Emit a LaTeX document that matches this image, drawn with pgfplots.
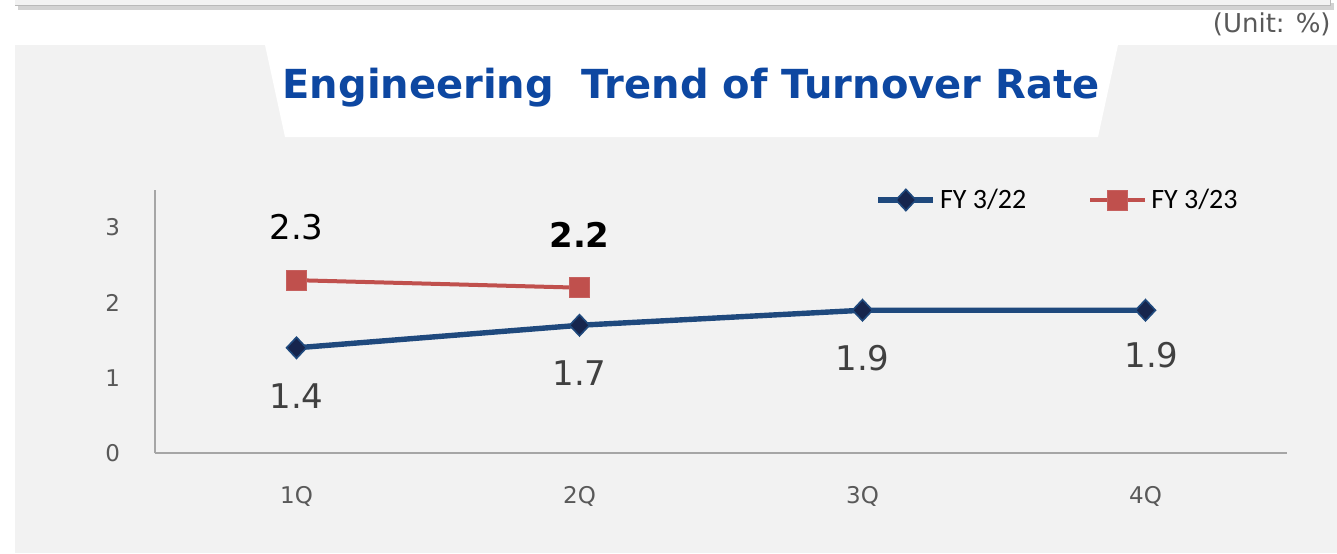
\documentclass[border=0pt]{standalone}
\usepackage{fontspec}
\setmainfont{DejaVu Sans}
\newfontfamily\legfont{Carlito}
\usepackage{pgfplots}
\pgfplotsset{compat=1.18}
\definecolor{panelgray}{RGB}{242,242,242}
\definecolor{titleblue}{RGB}{13,71,161}
\definecolor{lineblue}{RGB}{31,73,125}
\definecolor{markblue}{RGB}{22,37,77}
\definecolor{linered}{RGB}{192,80,77}
\definecolor{axisgray}{RGB}{166,166,166}
\definecolor{ticktext}{RGB}{89,89,89}
\definecolor{labeltext}{RGB}{64,64,64}

\begin{document}
\begin{tikzpicture}
\useasboundingbox (0,0) rectangle (668.5pt,276.5pt);
% background, in pixel units measured from the top left
\begin{scope}[x=0.5pt, y=-0.5pt, shift={(0pt,276.5pt)}]
  \fill[white] (0,0) rectangle (1337,553);
  \fill[gray!35] (18,3) rectangle (1334,10);
  \fill[panelgray] (15,0) rectangle (1330,6);
  \draw[gray!55, line width=0.5pt] (15,6) -- (1330,6) -- (1330,0);
  \node[anchor=east, inner sep=0pt, text=ticktext, font=\fontsize{13}{15}\selectfont] at (1331,24) {(Unit: \%)};
  \fill[panelgray] (15,45) rectangle (1337,553);
  \fill[white] (265,45) -- (1118,45) -- (1098,137) -- (285,137) -- cycle;
  \node[text=titleblue, font=\fontsize{20}{24}\selectfont\bfseries] at (691,88) {Engineering\ \ Trend of Turnover Rate};
\end{scope}

\begin{axis}[
  at={(77.5pt,50pt)}, anchor=south west,
  scale only axis,
  width=566pt, height=131.5pt,
  xmin=-0.5, xmax=3.5,
  ymin=0, ymax=3.5,
  xtick={0,1,2,3},
  xticklabels={1Q,2Q,3Q,4Q},
  ytick={0,1,2,3},
  axis lines=left,
  axis line style={-, draw=axisgray, line width=1pt},
  major tick length=0pt,
  /pgf/number format/assume math mode=true,
  tick label style={text=ticktext, font=\fontsize{11.5}{13}\selectfont},
  yticklabel style={xshift=-14pt},
  xticklabel style={yshift=-13pt},
  clip=false,
  legend columns=2,
  legend style={at={(0.631,0.962)}, anchor=west, draw=none, fill=none,
    font=\legfont\fontsize{14}{16}\selectfont,
    /tikz/every even column/.append style={column sep=29pt}},
  legend image code/.code={\draw[mark repeat=2,mark phase=2,#1] plot coordinates {(0pt,0pt) (13.75pt,0pt) (27.5pt,0pt)};},
]
\addplot[lineblue, line width=2.7pt, mark=diamond*,
  mark options={mark size=5.3pt, xscale=1.25, fill=markblue, draw=lineblue, line width=0.8pt},
  nodes near coords, point meta=explicit symbolic,
  every node near coord/.append style={anchor=center, yshift=-24pt, text=labeltext, font=\fontsize{17}{20}\selectfont}]
  coordinates {(0,1.4)[1.4] (1,1.7)[1.7] (2,1.9)[1.9] (3,1.9)[\hspace*{6pt}\raisebox{3pt}{1.9}]};
\addlegendentry{FY 3/22}
\addplot[linered, line width=2pt, mark=square*,
  mark options={mark size=5pt, fill=linered, draw=linered!90!white, line width=0.5pt},
  nodes near coords, point meta=explicit symbolic,
  every node near coord/.append style={anchor=center, yshift=26.5pt, text=black, font=\fontsize{17}{20}\selectfont}]
  coordinates {(0,2.3)[2.3] (1,2.2)[\textbf{2.2}]};
\addlegendentry{FY 3/23}
\end{axis}
\end{tikzpicture}
\end{document}
